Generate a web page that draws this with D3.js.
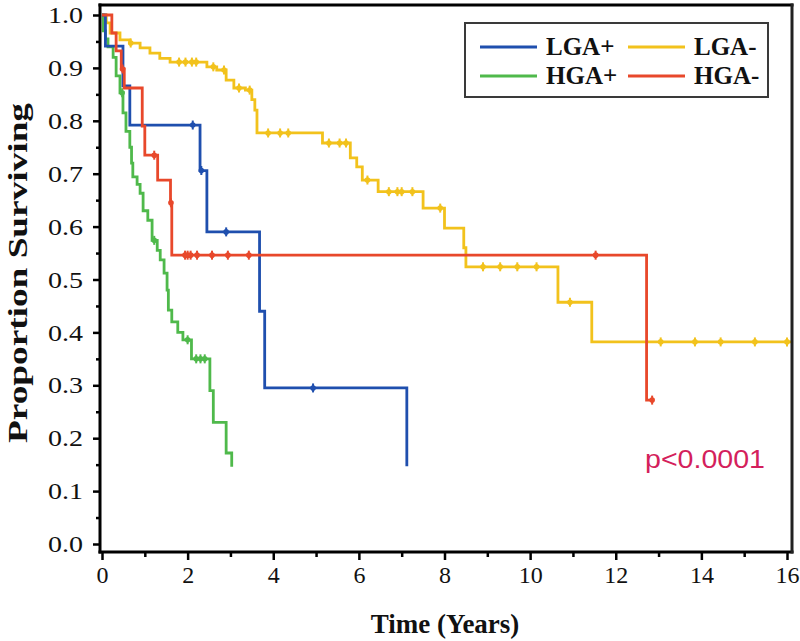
<!DOCTYPE html>
<html><head><meta charset="utf-8">
<script src="https://cdn.jsdelivr.net/npm/d3@7"></script>
<style>body{margin:0;background:#fff}svg{display:block}
.tick text{font-family:'Liberation Serif','Times New Roman',Times,serif !important;}
</style>
</head><body>
<svg id="chart" width="800" height="641"></svg>
<script>
// ---- data ----
const seriesNames = ["LGA+", "LGA-", "HGA+", "HGA-"];
const lgaPlusTimes  = [0.08, 0.49, 0.65, 2.29, 2.45, 3.68, 3.8, 7.12];
const lgaPlusValues = [0.941, 0.866, 0.792, 0.706, 0.59, 0.44, 0.295, 0.147];
const lgaPlusCensor = [2.12, 2.32, 2.9, 4.93];
const lgaPlusEnd = 7.12;

const hgaPlusTimes  = [0.03,0.08,0.14,0.26,0.33,0.42,0.49,0.56,0.65,0.69,0.72,0.82,0.89,0.96,1.07,1.17,1.29,1.36,1.45,1.52,1.55,1.63,1.77,1.89,2.09,2.52,2.6,2.9,3.03];
const hgaPlusValues = [0.97,0.955,0.94,0.92,0.885,0.853,0.815,0.78,0.75,0.72,0.694,0.68,0.663,0.63,0.612,0.574,0.555,0.537,0.512,0.48,0.442,0.42,0.40,0.386,0.35,0.29,0.23,0.172,0.146];
const hgaPlusCensor = [0.47, 1.22, 2.0, 2.2, 2.3, 2.4];
const hgaPlusEnd = 3.03;

const hgaMinusTimes  = [0.23, 0.33, 0.45, 0.52, 0.94, 1.0, 1.3, 1.6, 1.63, 12.72];
const hgaMinusValues = [0.966, 0.932, 0.898, 0.862, 0.79, 0.735, 0.688, 0.645, 0.546, 0.272];
const hgaMinusCensor = [0.48, 1.22, 1.61, 1.94, 2.0, 2.07, 2.22, 2.57, 2.94, 3.43, 11.53, 12.85];
const hgaMinusEnd = 12.88;

const lgaMinusTimes  = [0.1,0.19,0.42,0.65,0.89,1.12,1.35,1.59,2.45,2.68,2.9,3.08,3.35,3.5,3.57,3.62,5.15,5.8,5.95,6.08,6.45,7.5,8.0,8.45,8.5,10.65,11.44];
const lgaMinusValues = [0.985,0.966,0.953,0.947,0.938,0.928,0.918,0.911,0.902,0.896,0.877,0.862,0.858,0.84,0.82,0.777,0.758,0.73,0.713,0.688,0.666,0.635,0.597,0.56,0.524,0.457,0.382];
const lgaMinusCensor = [0.67,1.8,1.95,2.1,2.2,2.6,2.85,3.2,3.45,3.88,4.16,4.35,5.3,5.55,5.7,6.2,6.7,6.9,7.0,7.25,7.9,8.9,9.3,9.7,10.15,10.93,13.05,13.85,14.45,15.25,16.0];
const lgaMinusEnd = 16.1;

const yTickValues = [0,0.1,0.2,0.3,0.4,0.5,0.6,0.7,0.8,0.9,1.0];
const yMinorTicks = [0.05,0.15,0.25,0.35,0.45,0.55,0.65,0.75,0.85,0.95];
const xTickValues = [0,2,4,6,8,10,12,14,16];
const xMinorTicks = [1,3,5,7,9,11,13,15];
const pText = "p<0.0001";

// ---- build ----
const colors = {"LGA+":"#1f4fae","LGA-":"#f2c21c","HGA+":"#4fb94b","HGA-":"#e8482b"};
const series = [
  {name:"LGA-", t:lgaMinusTimes, v:lgaMinusValues, c:lgaMinusCensor, end:lgaMinusEnd},
  {name:"HGA+", t:hgaPlusTimes, v:hgaPlusValues, c:hgaPlusCensor, end:hgaPlusEnd},
  {name:"LGA+", t:lgaPlusTimes, v:lgaPlusValues, c:lgaPlusCensor, end:lgaPlusEnd},
  {name:"HGA-", t:hgaMinusTimes, v:hgaMinusValues, c:hgaMinusCensor, end:hgaMinusEnd}
];

const svg = d3.select("#chart");
const serif = "'Liberation Serif','Times New Roman',Times,serif";
const x = d3.scaleLinear().domain([0,16]).range([102,787]);
const y = d3.scaleLinear().domain([0,1]).range([544,15]);
const L = 100, R = 792, T = 5, B = 552;

// axes
const yAxis = svg.append("g").attr("transform",`translate(${L},0)`)
  .call(d3.axisLeft(y).tickValues(yTickValues).tickFormat(d3.format(".1f")).tickSize(7).tickPadding(10));
const yMinor = svg.append("g").attr("transform",`translate(${L},0)`)
  .call(d3.axisLeft(y).tickValues(yMinorTicks).tickFormat("").tickSize(4));
const xAxis = svg.append("g").attr("transform",`translate(0,${B})`)
  .call(d3.axisBottom(x).tickValues(xTickValues).tickFormat(d3.format("d")).tickSize(8).tickPadding(6));
const xMinor = svg.append("g").attr("transform",`translate(0,${B})`)
  .call(d3.axisBottom(x).tickValues(xMinorTicks).tickFormat("").tickSize(5));
[yAxis,yMinor,xAxis,xMinor].forEach(g=>{
  g.select(".domain").remove();
  g.attr("font-family",serif).attr("font-size",24);
  g.selectAll(".tick line").attr("stroke","#000").attr("stroke-width",2.5);
  g.selectAll(".tick text").attr("fill","#111").style("font-size","24px");
});
yAxis.selectAll(".tick text").attr("textLength",35).attr("lengthAdjust","spacingAndGlyphs");

// curves
const line = d3.line().x(d=>x(d[0])).y(d=>y(d[1])).curve(d3.curveStepAfter);
series.forEach(s=>{
  const pts = [[0,1]];
  s.t.forEach((t,i)=>pts.push([t,s.v[i]]));
  if (s.end > s.t[s.t.length-1]) pts.push([s.end, s.v[s.v.length-1]]);
  const col = colors[s.name];
  svg.append("path").attr("d", line(pts)).attr("fill","none")
    .attr("stroke",col).attr("stroke-width",2.8);
  const survAt = tt => { let val = 1; s.t.forEach((t,i)=>{ if (t<=tt) val = s.v[i]; }); return val; };
  const g = svg.append("g");
  s.c.forEach(ct=>{
    const cx = x(ct), cy = y(survAt(ct));
    g.append("line").attr("x1",cx).attr("x2",cx).attr("y1",cy-4.5).attr("y2",cy+4.5)
      .attr("stroke",col).attr("stroke-width",2);
    g.append("circle").attr("cx",cx).attr("cy",cy).attr("r",2.8).attr("fill",col);
  });
});

// frame
const frame = svg.append("g").attr("stroke","#000").attr("stroke-width",3).attr("stroke-linecap","square");
frame.append("line").attr("x1",L).attr("x2",L).attr("y1",T).attr("y2",B);
frame.append("line").attr("x1",L).attr("x2",R).attr("y1",B).attr("y2",B);
frame.append("line").attr("x1",L).attr("x2",R).attr("y1",T).attr("y2",T);
frame.append("line").attr("x1",R).attr("x2",R).attr("y1",T).attr("y2",B).attr("stroke","#222");

// legend
const lg = svg.append("g");
lg.append("rect").attr("x",465).attr("y",23).attr("width",303).attr("height",74)
  .attr("fill","#fff").attr("stroke","#3a3a3a").attr("stroke-width",2);
const legendLayout = [
  {name:"LGA+", lx:480, ly:47}, {name:"LGA-", lx:628, ly:47},
  {name:"HGA+", lx:480, ly:76}, {name:"HGA-", lx:628, ly:76}
];
legendLayout.forEach(d=>{
  lg.append("line").attr("x1",d.lx).attr("x2",d.lx+57).attr("y1",d.ly).attr("y2",d.ly)
    .attr("stroke",colors[d.name]).attr("stroke-width",3);
  lg.append("text").attr("x",d.lx+66).attr("y",d.ly+8).text(d.name)
    .attr("font-family",serif).attr("font-weight","bold").attr("font-size",25).attr("fill","#111");
});

// titles
svg.append("text").attr("transform","translate(27,273) rotate(-90)").attr("text-anchor","middle")
  .attr("font-family",serif).attr("font-weight","bold").attr("font-size",28)
  .attr("textLength",340).attr("lengthAdjust","spacingAndGlyphs")
  .attr("fill","#111").text("Proportion Surviving");
svg.append("text").attr("x",445).attr("y",633).attr("text-anchor","middle")
  .attr("font-family",serif).attr("font-weight","bold").attr("font-size",27)
  .attr("fill","#111").text("Time (Years)");
svg.append("text").attr("x",645).attr("y",468)
  .attr("font-family","'Liberation Sans',Arial,sans-serif").attr("font-size",25)
  .attr("textLength",120).attr("lengthAdjust","spacingAndGlyphs")
  .attr("fill","#d41f5c").text(pText);
</script>
</body></html>
